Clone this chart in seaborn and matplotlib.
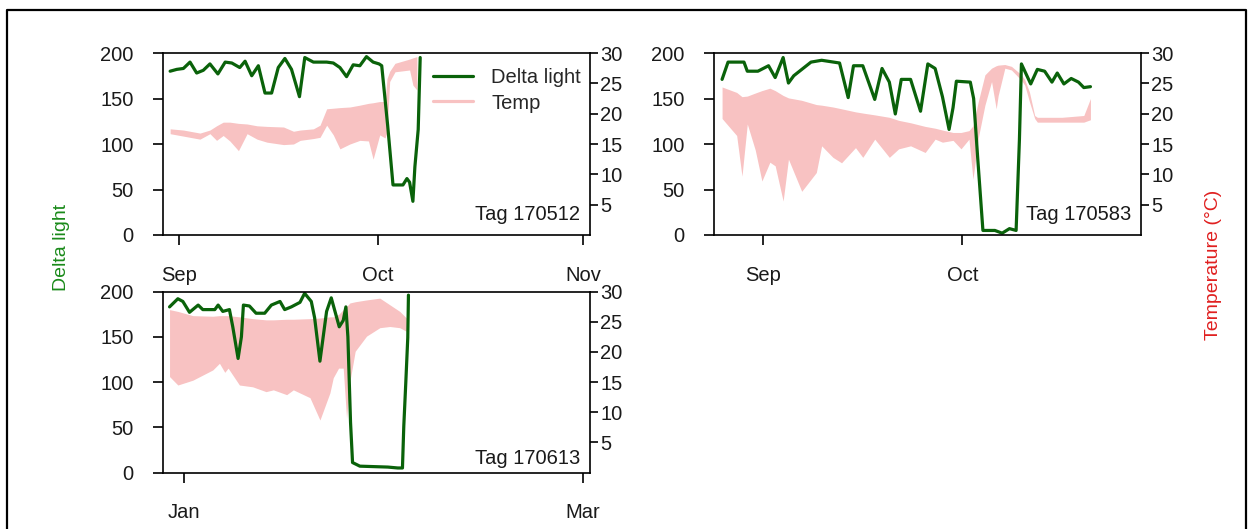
import matplotlib
matplotlib.use("Agg")
import matplotlib.pyplot as plt
import seaborn as sns
import pandas as pd
from matplotlib.lines import Line2D

# ---------------- data ----------------
# days are offsets from each panel's base date
p1_base = "2019-09-01"
p1_light_day = [-1.3, -0.3, 0.7, 1.7, 2.7, 3.7, 4.7, 5.9, 7.0, 8.0, 9.2, 10.0, 11.0, 12.0, 13.0,
                14.0, 15.0, 16.0, 17.0, 18.2, 19.0, 20.3, 21.3, 22.3, 23.3, 24.3, 25.3, 26.3,
                27.3, 28.3, 29.3, 30.2, 30.6, 31.5, 32.3, 33.8, 34.4, 34.8, 35.3, 35.6, 36.1, 36.4]
p1_light = [180, 182, 183, 190, 178, 181, 188, 177, 190, 189, 184, 191, 175, 186, 156,
            156, 184, 194, 182, 152, 195, 190, 190, 190, 189, 184, 174, 187,
            186, 196, 190, 188, 186, 120, 55, 55, 62, 58, 37, 75, 116, 195]
p1_temp_day = [-1.3, 0.7, 3.2, 4.7, 5.7, 6.7, 7.7, 9.0, 10.3, 11.8, 13.3, 15.8, 17.3, 18.3,
               20.3, 21.3, 22.3, 23.3, 24.3, 25.8, 27.3, 28.6, 29.3, 30.3, 31.1, 31.4, 31.8,
               32.6, 34.8, 35.3, 35.9]
p1_tmin = [16.7, 16.3, 15.8, 16.7, 15.6, 16.4, 15.5, 13.9, 16.7, 15.8, 15.3, 14.9, 15.0, 15.6,
           15.9, 16.1, 18.1, 16.5, 14.2, 15.0, 15.6, 15.5, 12.5, 16.5, 16.0, 17.0, 25.3,
           26.9, 27.2, 24.7, 23.9]
p1_tmax = [17.5, 17.3, 16.8, 17.3, 18.0, 18.6, 18.6, 18.4, 18.3, 18.0, 17.9, 17.8, 17.1, 17.3,
           17.5, 18.1, 20.8, 20.9, 21.0, 21.1, 21.4, 21.7, 21.8, 22.0, 22.0, 25.8, 27.0,
           28.3, 29.0, 29.2, 29.4]

p2_base = "2019-09-01"
p2_light_day = [-6.2, -5.3, -2.9, -2.4, -0.8, 0.8, 1.8, 3.0, 3.8, 4.6, 7.2, 8.8, 11.5, 12.8,
                13.6, 15.0, 16.8, 17.9, 19.0, 19.9, 20.8, 22.2, 23.7, 24.8, 25.9, 27.0, 28.0,
                28.6, 29.1, 31.2, 31.7, 32.3, 33.1, 34.9, 36.0, 37.1, 38.1, 38.6, 38.9, 40.3,
                41.3, 42.4, 43.5, 44.3, 45.3, 46.4, 47.5, 48.3, 49.3]
p2_light = [171, 190, 190, 180, 180, 186, 173, 195, 167, 175, 190, 192, 189, 151,
            186, 186, 149, 183, 168, 133, 171, 171, 136, 188, 183, 152, 116,
            140, 169, 168, 150, 86, 5, 5, 2, 7, 5, 105, 188, 166,
            182, 180, 168, 178, 166, 172, 168, 162, 163]
p2_temp_day = [-6.2, -4.0, -3.2, -2.4, -1.2, -0.2, 1.0, 1.8, 3.0, 3.8, 5.8, 8.0, 8.8, 10.5,
               11.8, 13.9, 15.0, 16.8, 19.0, 20.4, 22.2, 24.4, 25.9, 27.0, 28.6, 29.8, 31.0,
               31.6, 32.4, 33.4, 34.4, 35.1, 35.4, 36.4, 37.4, 38.9, 39.4, 40.1, 40.9, 41.3,
               45.0, 48.3, 49.3]
p2_tmin = [19.2, 16.4, 9.7, 18.3, 14.0, 8.9, 12.0, 11.4, 5.6, 12.5, 7.2, 10.3, 14.7, 12.8,
           11.9, 14.4, 12.8, 15.8, 12.8, 14.2, 14.7, 13.6, 15.8, 15.3, 15.6, 14.2, 15.8,
           9.2, 16.0, 21.4, 25.3, 20.8, 23.0, 27.5, 27.2, 25.5, 24.7, 22.0, 19.2, 18.6,
           18.6, 18.6, 19.0]
p2_tmax = [24.4, 23.5, 22.8, 22.9, 23.4, 23.8, 24.2, 23.8, 23.0, 22.6, 22.2, 21.5, 21.4, 21.1,
           20.8, 20.3, 20.1, 19.8, 19.4, 18.9, 18.5, 17.9, 17.6, 17.3, 16.9, 16.9, 17.2,
           18.0, 22.0, 26.4, 27.5, 27.9, 28.0, 28.1, 27.8, 26.4, 25.6, 23.6, 19.7, 19.4,
           19.4, 19.7, 22.5]

p3_base = "2020-01-01"
p3_light_day = [-2.1, -0.85, -0.1, 0.9, 2.2, 2.9, 4.7, 5.2, 5.9, 6.9, 7.4, 8.2, 8.7, 9.0, 9.9,
                10.9, 12.2, 13.2, 14.5, 15.2, 16.2, 17.5, 18.2, 19.2, 19.7, 20.5, 21.5, 22.2,
                23.4, 24.0, 24.4, 24.7, 25.1, 25.4, 26.5, 30.7, 32.2, 32.9, 33.1, 33.4, 33.7, 33.8]
p3_light = [183, 192, 189, 177, 185, 180, 180, 185, 178, 180, 161, 126, 150, 185, 184,
            176, 176, 185, 189, 180, 183, 188, 198, 189, 171, 123, 178, 193,
            161, 168, 183, 150, 55, 11, 7, 6, 5, 5, 51, 99, 149, 196]
p3_temp_day = [-2.1, -0.85, 1.4, 4.4, 5.4, 6.2, 6.7, 8.4, 10.4, 12.4, 13.5, 15.5, 16.5, 19.0,
               20.5, 22.0, 22.5, 23.3, 24.0, 24.5, 25.0, 25.8, 27.5, 29.5, 31.0, 32.5, 33.5]
p3_tmin = [15.9, 14.5, 15.3, 17.0, 18.1, 16.6, 17.3, 14.5, 14.2, 13.4, 13.7, 12.9, 13.7, 12.4,
           8.7, 13.2, 15.7, 17.3, 17.3, 9.0, 15.1, 20.1, 22.6, 24.0, 24.2, 24.0, 23.4]
p3_tmax = [27.0, 26.7, 26.0, 25.9, 26.0, 26.0, 26.0, 25.8, 25.5, 25.3, 25.3, 25.4, 25.4, 25.5,
           25.6, 25.8, 25.8, 26.2, 27.0, 27.5, 28.1, 28.3, 28.6, 28.9, 27.8, 26.7, 25.6]

tags = ["Tag 170512", "Tag 170583", "Tag 170613"]
month_ticks = [["2019-09-01", "2019-10-01", "2019-11-01"],
               ["2019-09-01", "2019-10-01"],
               ["2020-01-01", "2020-03-01"]]
month_labels = [["Sep", "Oct", "Nov"], ["Sep", "Oct"], ["Jan", "Mar"]]
x_limits = [("2019-08-29 15:00", "2019-11-02 00:00"),
            ("2019-08-24 14:00", "2019-10-27 22:00"),
            ("2019-12-28 22:00", "2020-03-02 02:00")]
light_ticks = [0, 50, 100, 150, 200]
temp_ticks = [5, 10, 15, 20, 25, 30]

# ---------------- style ----------------
sns.set_theme(style="white")
plt.rcParams['font.family'] = ['Liberation Sans', 'DejaVu Sans']

W, H = 1248, 529
GREEN = "#0a620a"
PINK = "#f8c2c2"
TXT = "#1a1a1a"
FS = 14.5

fig = plt.figure(figsize=(W / 100, H / 100), dpi=100)


def rect(l, t, r, b):
    return [l / W, 1 - b / H, (r - l) / W, (b - t) / H]


boxes = [rect(163, 53, 590, 235), rect(714, 53, 1141, 235), rect(163, 291.5, 590, 472.5)]
tag_y = [0.115, 0.115, 0.08]

panels = [
    (p1_base, p1_light_day, p1_light, p1_temp_day, p1_tmin, p1_tmax),
    (p2_base, p2_light_day, p2_light, p2_temp_day, p2_tmin, p2_tmax),
    (p3_base, p3_light_day, p3_light, p3_temp_day, p3_tmin, p3_tmax),
]

for i, (base, ld, lv, td, tmin, tmax) in enumerate(panels):
    b = pd.Timestamp(base)
    ldates = b + pd.to_timedelta(ld, unit="D")
    tdates = b + pd.to_timedelta(td, unit="D")

    ax = fig.add_axes(boxes[i])
    ax2 = ax.twinx()
    ax.set_zorder(ax2.get_zorder() + 1)
    ax.patch.set_visible(False)

    ax2.fill_between(tdates, tmin, tmax, color=PINK, lw=0)
    df = pd.DataFrame({"date": ldates, "light": lv})
    sns.lineplot(data=df, x="date", y="light", ax=ax, color=GREEN, lw=2.3,
                 estimator=None, sort=False)

    xl = (pd.Timestamp(x_limits[i][0]), pd.Timestamp(x_limits[i][1]))
    ax.set_xlim(xl)
    ax2.set_xlim(xl)
    ax.set_ylim(0, 200)
    ax2.set_ylim(0, 30)

    ax.set_yticks(light_ticks)
    ax.set_yticklabels([str(v) for v in light_ticks])
    ax2.set_yticks(temp_ticks)
    ax2.set_yticklabels([str(v) for v in temp_ticks])
    ax.set_xticks([pd.Timestamp(t) for t in month_ticks[i]])
    ax.set_xticklabels(month_labels[i])
    ax.set_xlabel("")
    ax.set_ylabel("")
    ax2.set_ylabel("")

    for sp in ax.spines.values():
        sp.set_visible(True)
        sp.set_color("black")
        sp.set_linewidth(1.2)
    for sp in ax2.spines.values():
        sp.set_visible(False)

    ax.tick_params(axis="y", direction="out", length=7, width=1.2, colors="black",
                   labelcolor=TXT, labelsize=FS, pad=14, left=True)
    ax.tick_params(axis="x", direction="out", length=7, width=1.2, colors="black",
                   labelcolor=TXT, labelsize=FS, pad=15, bottom=True)
    ax2.tick_params(axis="y", direction="out", length=6, width=1.2, colors="black",
                    labelcolor=TXT, labelsize=FS, pad=1.5, right=True)
    ax.grid(False)
    ax2.grid(False)

    ax.text(0.977, tag_y[i], tags[i], transform=ax.transAxes, ha="right", va="center",
            fontsize=FS, color=TXT)

    if i == 0:
        handles = [Line2D([], [], color=GREEN, lw=2.3), Line2D([], [], color=PINK, lw=2.3)]
        ax.legend(handles, ["Delta light", "Temp"], loc="upper left",
                  bbox_to_anchor=(0.632, 0.915), frameon=False, fontsize=FS,
                  borderpad=0, borderaxespad=0, handlelength=2.0, handletextpad=0.9,
                  labelspacing=0.3)

fig.text(62 / W, 1 - 247 / H, "Delta light", rotation=90, color="#1a8a1a",
         ha="center", va="center", fontsize=14)
fig.text(1213 / W, 1 - 265 / H, "Temperature (°C)", rotation=90, color="#e02020",
         ha="center", va="center", fontsize=14)

# outer frame
fx0, fx1, fy1 = 7 / W, 1246 / W, 1 - 10 / H
fig.add_artist(Line2D([fx0, fx0, fx1, fx1], [0, fy1, fy1, 0], transform=fig.transFigure,
                      color="black", lw=1.6))

fig.savefig("out.png", dpi=100, facecolor="white")
